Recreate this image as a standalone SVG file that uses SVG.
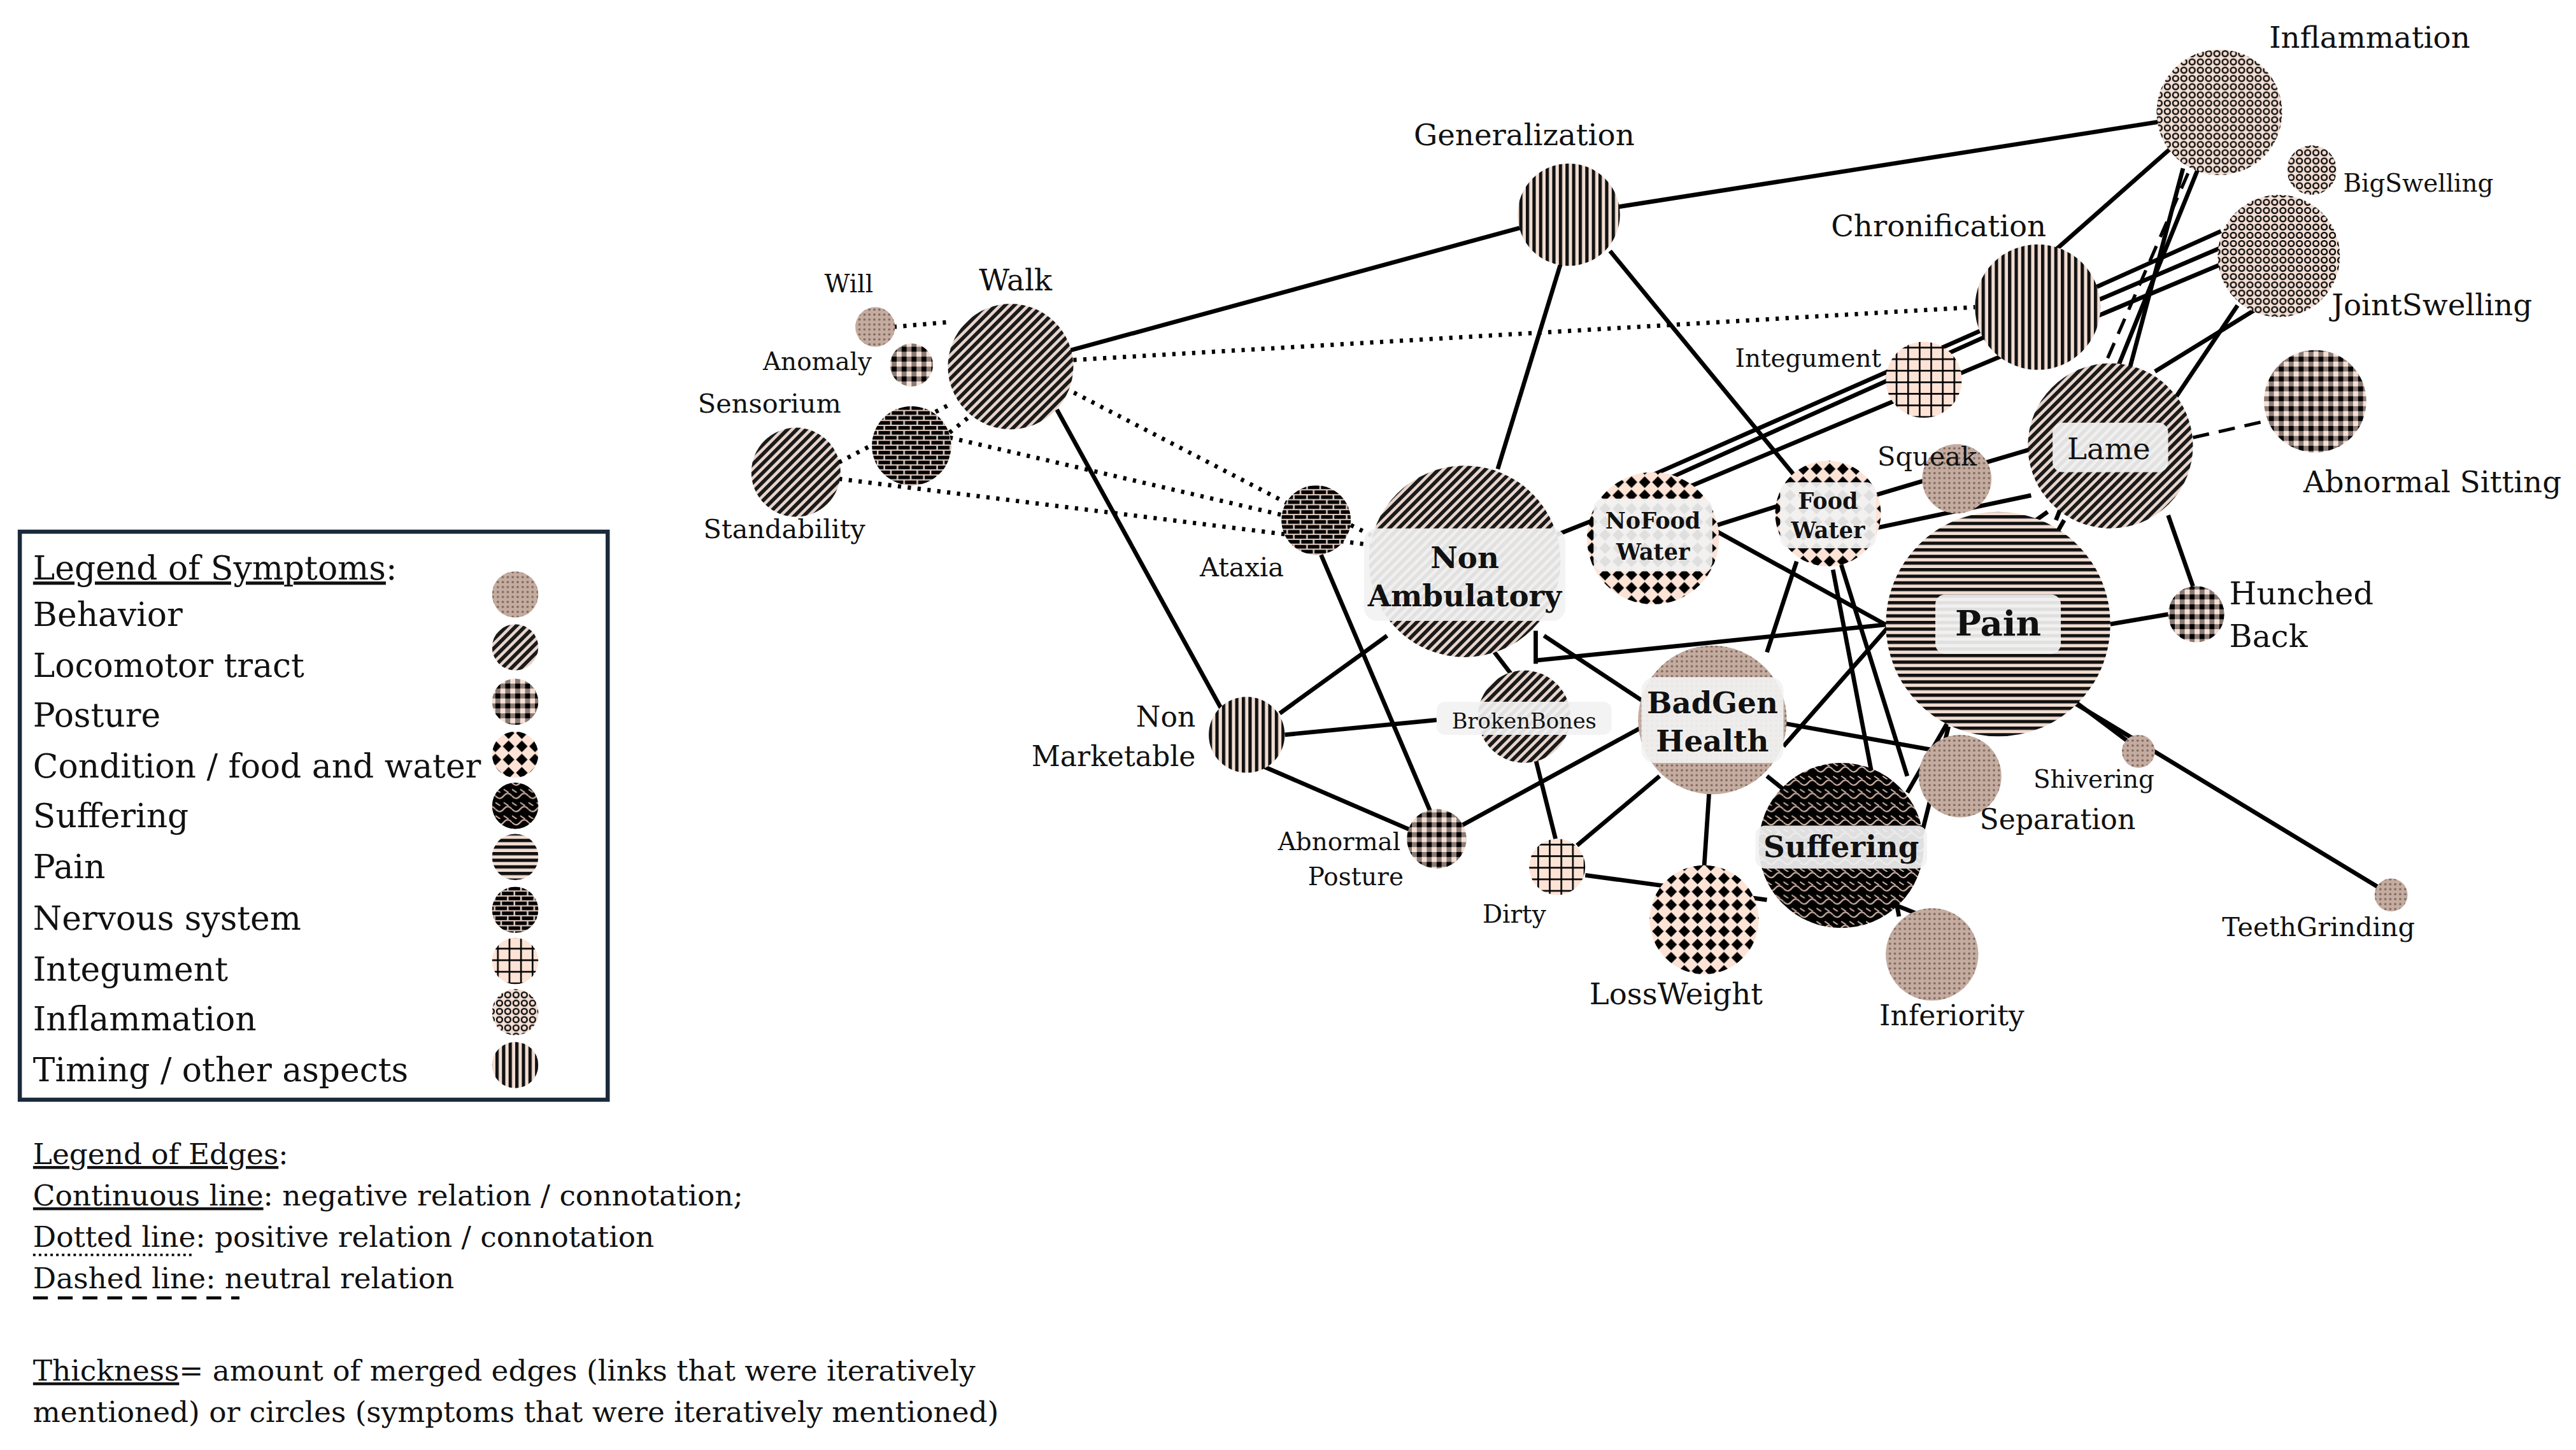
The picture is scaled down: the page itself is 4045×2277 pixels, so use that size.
<svg xmlns="http://www.w3.org/2000/svg" width="4045" height="2277" viewBox="0 0 4045 2277">
<defs>
<pattern id="pBeh" width="3" height="3" patternUnits="userSpaceOnUse"><rect width="3" height="3" fill="#c4aca0"/><circle cx="1.5" cy="1.5" r="0.7" fill="#7a6258"/></pattern>
<pattern id="pLoc" width="4" height="4" patternUnits="userSpaceOnUse" patternTransform="rotate(45)"><rect width="4" height="4" fill="#e8d5cc"/><rect width="2.2" height="4" fill="#1a1a1a"/></pattern>
<pattern id="pPos" width="6" height="6" patternUnits="userSpaceOnUse"><rect width="6" height="6" fill="#8a7a74"/><rect width="3" height="3" fill="#000"/><rect x="3" y="3" width="3" height="3" fill="#f5e0d6"/></pattern>
<pattern id="pCon" width="8" height="8" patternUnits="userSpaceOnUse"><rect width="8" height="8" fill="#fde3d6"/><polygon points="4,0.5 7.5,4 4,7.5 0.5,4" fill="#000"/></pattern>
<pattern id="pSuf" width="10" height="8" patternUnits="userSpaceOnUse"><rect width="10" height="8" fill="#000"/><path d="M0,2 Q2.5,5 5,2 T10,2 M0,6 L3,8 M5,6 L8,8" stroke="#d9b9aa" stroke-width="0.8" fill="none"/></pattern>
<pattern id="pPain" width="4" height="4" patternUnits="userSpaceOnUse"><rect width="4" height="4" fill="#f2ddd2"/><rect width="4" height="2" fill="#111"/></pattern>
<pattern id="pNer" width="8" height="6" patternUnits="userSpaceOnUse"><rect width="8" height="6" fill="#e0c9be"/><rect x="0" y="0" width="7" height="2.2" fill="#000"/><rect x="-4" y="3" width="7" height="2.2" fill="#000"/><rect x="4" y="3" width="7" height="2.2" fill="#000"/></pattern>
<pattern id="pInt" width="7" height="7" patternUnits="userSpaceOnUse"><rect width="7" height="7" fill="#fde3d6"/><path d="M0,0.5 H7 M0.5,0 V7" stroke="#000" stroke-width="1"/></pattern>
<pattern id="pInf" width="5" height="5" patternUnits="userSpaceOnUse"><rect width="5" height="5" fill="#f5e0d6"/><circle cx="2.5" cy="2.5" r="1.7" fill="none" stroke="#000" stroke-width="0.9"/></pattern>
<pattern id="pTim" width="4" height="4" patternUnits="userSpaceOnUse"><rect width="4" height="4" fill="#f2ddd2"/><rect width="2" height="4" fill="#111"/></pattern>
</defs>
<style>
text{font-family:"DejaVu Serif","Liberation Serif",serif;fill:#111}
.lbl{font-size:18px}
.in{font-size:18px;font-weight:bold;text-anchor:middle}
.sm{font-size:14px}
.c{text-anchor:middle}
.e{stroke:#000;stroke-width:2.6;fill:none}
.d{stroke:#000;stroke-width:2.6;fill:none;stroke-dasharray:2,4}
.da{stroke:#000;stroke-width:2;fill:none;stroke-dasharray:10,6}
.bg{fill:#f2f2f2;opacity:0.92}
.leg{font-size:20px}
.el{font-size:17.5px}
</style>
<rect width="4045" height="2277" fill="#fff"/>
<g transform="scale(2.593)">
<g id="connectors">
<line class="e" x1="612" y1="222" x2="950" y2="130"/>
<line class="e" x1="950" y1="130" x2="1344" y2="68"/>
<line class="e" x1="640" y1="248" x2="740" y2="430"/>
<line class="e" x1="945" y1="160" x2="907" y2="284"/>
<line class="e" x1="975" y1="152" x2="1090" y2="292"/>
<line class="e" x1="940" y1="325" x2="965" y2="315"/>
<line class="e" x1="1040" y1="318" x2="1078" y2="306"/>
<line class="e" x1="1000" y1="288" x2="1200" y2="200"/>
<line class="e" x1="1010" y1="290" x2="1345" y2="140"/>
<line class="e" x1="1020" y1="296" x2="1350" y2="158"/>
<line class="e" x1="1235" y1="160" x2="1320" y2="85"/>
<line class="e" x1="1270" y1="182" x2="1345" y2="150"/>
<line class="e" x1="1135" y1="300" x2="1230" y2="272"/>
<line class="e" x1="1135" y1="320" x2="1230" y2="300"/>
<line class="e" x1="1040" y1="322" x2="1145" y2="380"/>
<line class="e" x1="1290" y1="222" x2="1322" y2="102"/>
<line class="e" x1="1305" y1="225" x2="1365" y2="188"/>
<line class="e" x1="1318" y1="240" x2="1355" y2="185"/>
<line class="e" x1="1245" y1="315" x2="1332" y2="100"/>
<line class="e" x1="1313" y1="312" x2="1328" y2="355"/>
<line class="e" x1="1278" y1="378" x2="1313" y2="372"/>
<line class="e" x1="1255" y1="425" x2="1448" y2="542"/>
<line class="e" x1="1250" y1="420" x2="1290" y2="450"/>
<line class="e" x1="1145" y1="378" x2="930" y2="400"/>
<line class="e" x1="930" y1="382" x2="930" y2="402"/>
<line class="e" x1="935" y1="385" x2="1000" y2="428"/>
<line class="e" x1="905" y1="395" x2="915" y2="408"/>
<line class="e" x1="840" y1="385" x2="775" y2="432"/>
<line class="e" x1="778" y1="445" x2="870" y2="436"/>
<line class="e" x1="800" y1="336" x2="866" y2="491"/>
<line class="e" x1="885" y1="500" x2="995" y2="440"/>
<line class="e" x1="760" y1="462" x2="855" y2="503"/>
<line class="e" x1="930" y1="460" x2="942" y2="508"/>
<line class="e" x1="955" y1="512" x2="1005" y2="470"/>
<line class="e" x1="960" y1="530" x2="1070" y2="545"/>
<line class="e" x1="1035" y1="480" x2="1032" y2="525"/>
<line class="e" x1="1070" y1="470" x2="1080" y2="478"/>
<line class="e" x1="1070" y1="395" x2="1088" y2="340"/>
<line class="e" x1="1080" y1="438" x2="1175" y2="455"/>
<line class="e" x1="1080" y1="452" x2="1145" y2="378"/>
<line class="e" x1="1115" y1="342" x2="1155" y2="470"/>
<line class="e" x1="1110" y1="345" x2="1150" y2="555"/>
<line class="e" x1="1140" y1="545" x2="1165" y2="555"/>
<line class="e" x1="1155" y1="480" x2="1250" y2="315"/>
<line class="e" x1="1160" y1="520" x2="1180" y2="440"/>
<line class="e" x1="1145" y1="378" x2="1240" y2="310"/>
<line class="d" x1="541" y1="198" x2="575" y2="195"/>
<line class="d" x1="650" y1="218" x2="1196" y2="186"/>
<line class="d" x1="645" y1="235" x2="780" y2="305"/>
<line class="d" x1="575" y1="265" x2="777" y2="312"/>
<line class="d" x1="575" y1="262" x2="590" y2="250"/>
<line class="d" x1="508" y1="280" x2="575" y2="245"/>
<line class="d" x1="508" y1="290" x2="830" y2="330"/>
<line class="d" x1="818" y1="318" x2="832" y2="325"/>
<line class="da" x1="1325" y1="105" x2="1275" y2="220"/>
<line class="da" x1="1328" y1="265" x2="1372" y2="255"/>
</g>
<g id="n-inflammation"><circle cx="1344" cy="68" r="38" fill="url(#pInf)"/><text class="lbl c" x="1435" y="29">Inflammation</text></g>
<g id="n-bigswelling"><circle cx="1400" cy="103" r="15" fill="url(#pInf)"/><text x="1419" y="116" style="font-size:15px">BigSwelling</text></g>
<g id="n-jointswelling"><circle cx="1380" cy="155" r="37" fill="url(#pInf)"/><text class="lbl" x="1412" y="191">JointSwelling</text></g>
<g id="n-generalization"><circle cx="950" cy="130" r="31" fill="url(#pTim)"/><text class="lbl c" x="923" y="88">Generalization</text></g>
<g id="n-chronification"><circle cx="1234" cy="186" r="38" fill="url(#pTim)"/><text class="lbl c" x="1174" y="143">Chronification</text></g>
<g id="n-will"><circle cx="530" cy="198" r="12" fill="url(#pBeh)"/><text class="c" x="514" y="177" style="font-size:15px">Will</text></g>
<g id="n-walk"><circle cx="612" cy="222" r="38" fill="url(#pLoc)"/><text class="lbl c" x="615" y="176">Walk</text></g>
<g id="n-anomaly"><circle cx="552" cy="221" r="13" fill="url(#pPos)"/><text class="c" x="495" y="224" style="font-size:15px">Anomaly</text></g>
<g id="n-sensorium"><circle cx="552" cy="270" r="24" fill="url(#pNer)"/><text class="c" x="466" y="250" style="font-size:16px">Sensorium</text></g>
<g id="n-standability"><circle cx="482" cy="286" r="27" fill="url(#pLoc)"/><text class="c" x="475" y="326" style="font-size:16px">Standability</text></g>
<g id="n-integument"><circle cx="1165" cy="230" r="23" fill="url(#pInt)"/><text class="c" x="1095" y="222" style="font-size:15px">Integument</text></g>
<g id="n-lame"><circle cx="1278" cy="270" r="50" fill="url(#pLoc)"/><rect class="bg" x="1243" y="256" width="70" height="30" rx="6"/><text class="c" x="1277" y="278" style="font-size:18px">Lame</text></g>
<g id="n-abnsitting"><circle cx="1402" cy="243" r="31" fill="url(#pPos)"/><text class="lbl c" x="1473" y="298">Abnormal Sitting</text></g>
<g id="n-squeak"><circle cx="1185" cy="290" r="21" fill="url(#pBeh)"/><text class="c" x="1167" y="282" style="font-size:16px">Squeak</text></g>
<g id="n-ataxia"><circle cx="797" cy="315" r="21" fill="url(#pNer)"/><text class="c" x="752" y="349" style="font-size:16px">Ataxia</text></g>
<g id="n-nonambulatory"><circle cx="887" cy="340" r="58" fill="url(#pLoc)"/><rect class="bg" x="826" y="320" width="122" height="56" rx="8"/><text class="in" x="887" y="344">Non</text><text class="in" x="887" y="367">Ambulatory</text></g>
<g id="n-nofood"><circle cx="1001" cy="326" r="40" fill="url(#pCon)"/><rect class="bg" x="965" y="302" width="72" height="44" rx="6"/><text class="in" x="1001" y="320" style="font-size:13.5px">NoFood</text><text class="in" x="1001" y="339" style="font-size:13.5px">Water</text></g>
<g id="n-foodwater"><circle cx="1107" cy="311" r="32" fill="url(#pCon)"/><rect class="bg" x="1078" y="292" width="58" height="40" rx="6"/><text class="in" x="1107" y="308" style="font-size:13.5px">Food</text><text class="in" x="1107" y="326" style="font-size:13.5px">Water</text></g>
<g id="n-pain"><circle cx="1210" cy="378" r="68" fill="url(#pPain)"/><rect class="bg" x="1172" y="360" width="76" height="36" rx="6"/><text class="in" x="1210" y="385" style="font-size:21px">Pain</text></g>
<g id="n-hunched"><circle cx="1330" cy="372" r="17" fill="url(#pPos)"/><text class="lbl" x="1350" y="366" style="font-size:19px">Hunched</text><text class="lbl" x="1350" y="392" style="font-size:19px">Back</text></g>
<g id="n-nonmarketable"><circle cx="755" cy="445" r="23" fill="url(#pTim)"/><text x="724" y="440" text-anchor="end" style="font-size:17px">Non</text><text x="724" y="464" text-anchor="end" style="font-size:17px">Marketable</text></g>
<g id="n-brokenbones"><circle cx="923" cy="434" r="28" fill="url(#pLoc)"/><rect class="bg" x="870" y="425" width="106" height="20" rx="5"/><text class="c" x="923" y="441" style="font-size:13px">BrokenBones</text></g>
<g id="n-badgen"><circle cx="1037" cy="436" r="45" fill="url(#pBeh)"/><rect class="bg" x="994" y="410" width="86" height="52" rx="8"/><text class="in" x="1037" y="432">BadGen</text><text class="in" x="1037" y="455">Health</text></g>
<g id="n-shivering"><circle cx="1295" cy="455" r="10" fill="url(#pBeh)"/><text class="c" x="1268" y="477" style="font-size:15px">Shivering</text></g>
<g id="n-separation"><circle cx="1187" cy="470" r="25" fill="url(#pBeh)"/><text class="c" x="1246" y="502" style="font-size:17px">Separation</text></g>
<g id="n-suffering"><circle cx="1115" cy="512" r="50" fill="url(#pSuf)"/><rect class="bg" x="1063" y="500" width="104" height="26" rx="6"/><text class="in" x="1115" y="519">Suffering</text></g>
<g id="n-abnposture"><circle cx="870" cy="508" r="18" fill="url(#pPos)"/><text class="c" x="811" y="515" style="font-size:15px">Abnormal</text><text class="c" x="821" y="536" style="font-size:15px">Posture</text></g>
<g id="n-dirty"><circle cx="943" cy="525" r="17" fill="url(#pInt)"/><text class="c" x="917" y="559" style="font-size:15px">Dirty</text></g>
<g id="n-lossweight"><circle cx="1032" cy="557" r="33" fill="url(#pCon)"/><text class="lbl c" x="1015" y="608">LossWeight</text></g>
<g id="n-inferiority"><circle cx="1170" cy="578" r="28" fill="url(#pBeh)"/><text class="c" x="1182" y="621" style="font-size:17px">Inferiority</text></g>
<g id="n-teeth"><circle cx="1448" cy="542" r="10" fill="url(#pBeh)"/><text class="c" x="1404" y="567" style="font-size:16px">TeethGrinding</text></g>
<g id="legend">
<rect x="12" y="322" width="356" height="344" fill="none" stroke="#1a2a3a" stroke-width="2.5"/>
<text class="leg" x="20" y="351"><tspan text-decoration="underline">Legend of Symptoms</tspan>:</text>
<text class="leg" x="20" y="379">Behavior</text>
<text class="leg" x="20" y="410">Locomotor tract</text>
<text class="leg" x="20" y="440">Posture</text>
<text class="leg" x="20" y="471">Condition / food and water</text>
<text class="leg" x="20" y="501">Suffering</text>
<text class="leg" x="20" y="532">Pain</text>
<text class="leg" x="20" y="563">Nervous system</text>
<text class="leg" x="20" y="594">Integument</text>
<text class="leg" x="20" y="624">Inflammation</text>
<text class="leg" x="20" y="655">Timing / other aspects</text>
<circle cx="312" cy="360" r="14" fill="url(#pBeh)"/>
<circle cx="312" cy="392" r="14" fill="url(#pLoc)"/>
<circle cx="312" cy="425" r="14" fill="url(#pPos)"/>
<circle cx="312" cy="457" r="14" fill="url(#pCon)"/>
<circle cx="312" cy="488" r="14" fill="url(#pSuf)"/>
<circle cx="312" cy="519" r="14" fill="url(#pPain)"/>
<circle cx="312" cy="551" r="14" fill="url(#pNer)"/>
<circle cx="312" cy="582" r="14" fill="url(#pInt)"/>
<circle cx="312" cy="613" r="14" fill="url(#pInf)"/>
<circle cx="312" cy="645" r="14" fill="url(#pTim)"/>
</g>
<g id="edge-legend">
<text class="el" x="20" y="705"><tspan text-decoration="underline">Legend of Edges</tspan>:</text>
<text class="el" x="20" y="730"><tspan text-decoration="underline">Continuous line</tspan>: negative relation / connotation;</text>
<text class="el" x="20" y="755">Dotted line: positive relation / connotation</text>
<line x1="20" y1="760" x2="118" y2="760" stroke="#000" stroke-width="1.5" stroke-dasharray="1.5,2"/>
<text class="el" x="20" y="780">Dashed line: neutral relation</text>
<line x1="20" y1="786" x2="145" y2="786" stroke="#000" stroke-width="1.8" stroke-dasharray="9,6"/>
<text class="el" x="20" y="836"><tspan text-decoration="underline">Thickness</tspan>= amount of merged edges (links that were iteratively</text>
<text class="el" x="20" y="861">mentioned) or circles (symptoms that were iteratively mentioned)</text>
</g>
</g>
</svg>
